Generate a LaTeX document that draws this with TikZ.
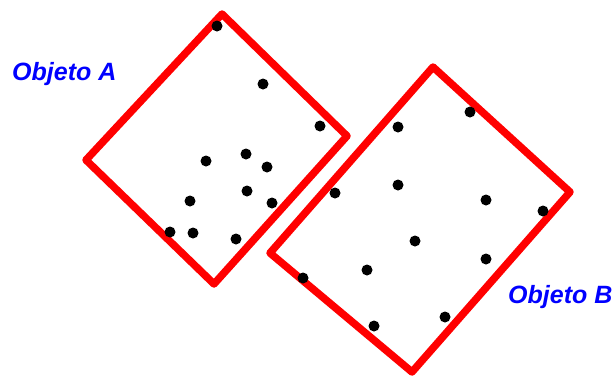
\documentclass[tikz,border=0pt]{standalone}
\usepackage{fontspec}
\setmainfont{Liberation Sans}
\begin{document}
\begin{tikzpicture}[x=1pt,y=-1pt,
  box/.style={draw=red,line width=7.5pt,line join=round},
  pt/.style={fill=black},
  lbl/.style={text=blue,font=\fontsize{25}{28}\selectfont\bfseries\itshape,inner sep=0pt,anchor=base west}]
\useasboundingbox (0,0) rectangle (614,378);
% Object A
\coordinate (a1) at (222,14);
\coordinate (a2) at (347,136);
\coordinate (a3) at (214,284);
\coordinate (a4) at (86,160);
\draw[box] (a1) -- (a2) -- (a3) -- (a4) -- cycle;
% Object B
\coordinate (b1) at (433,67);
\coordinate (b2) at (570,192);
\coordinate (b3) at (412,372);
\coordinate (b4) at (270,253);
\draw[box] (b1) -- (b2) -- (b3) -- (b4) -- cycle;
% dots A
\foreach \x/\y in {217/26,263/84,320/126,206/161,246/154,267/167,247/191,190/201,272/203,170/232,193/233,236/239}
  \fill[pt] (\x,\y) circle (5.5);
% dots B
\foreach \x/\y in {398/127,470/112,335/193,398/185,486/200,543/211,415/241,486/259,367/270,303/278,445/317,374/326}
  \fill[pt] (\x,\y) circle (5.5);
\node[lbl] (la) at (12,80) {Objeto A};
\node[lbl] (lb) at (508,303) {Objeto B};
\end{tikzpicture}
\end{document}
